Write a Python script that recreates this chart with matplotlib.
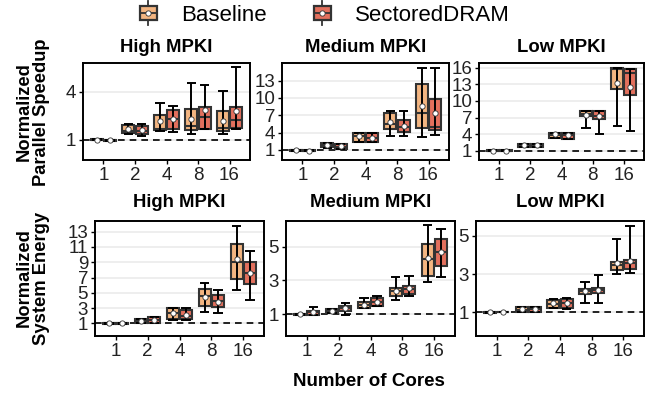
import numpy as np
import matplotlib
matplotlib.use("Agg")
import matplotlib.pyplot as plt
from matplotlib.patches import Rectangle, Patch
from matplotlib.lines import Line2D
from matplotlib.legend_handler import HandlerBase

plt.rcParams['font.family'] = ['Liberation Sans', 'DejaVu Sans']

cores = ['1', '2', '4', '8', '16']
configs = ['Baseline', 'SectoredDRAM']
colors = ['#F3B581', '#E3705D']
edge = '#333333'

# rows: whisker low, q1, median, q3, whisker high, mean  /  columns: cores 1..16
spd_high_base = [[0.98, 1.37, 1.52, 1.37, 1.37],
                 [0.97, 1.40, 1.60, 1.62, 1.52],
                 [1.00, 1.55, 1.70, 1.85, 1.73],
                 [1.03, 1.93, 2.52, 2.90, 2.82],
                 [1.03, 1.99, 3.26, 4.52, 4.06],
                 [1.00, 1.66, 2.14, 2.28, 2.14]]
spd_high_sect = [[0.95, 1.25, 1.46, 1.66, 1.70],
                 [0.95, 1.35, 1.70, 1.66, 1.73],
                 [0.98, 1.55, 2.30, 2.40, 2.24],
                 [1.00, 1.85, 2.84, 3.03, 3.07],
                 [1.00, 2.00, 3.13, 4.40, 5.52],
                 [0.98, 1.63, 2.28, 2.85, 2.76]]
spd_med_base = [[0.90, 1.40, 2.40, 3.42, 3.30],
                [0.90, 1.46, 2.44, 4.58, 4.75],
                [1.00, 1.85, 3.50, 5.50, 7.35],
                [1.05, 2.15, 3.99, 7.46, 12.50],
                [1.05, 2.20, 4.00, 7.80, 15.24],
                [1.00, 1.86, 3.42, 5.90, 8.55]]
spd_med_sect = [[0.75, 1.10, 2.30, 3.42, 3.60],
                [0.75, 1.17, 2.33, 4.17, 4.46],
                [0.85, 1.60, 3.10, 4.98, 4.93],
                [0.95, 2.04, 3.88, 6.19, 9.77],
                [0.95, 2.10, 3.90, 7.80, 15.24],
                [0.83, 1.69, 3.13, 5.15, 7.35]]
spd_low_base = [[0.95, 1.60, 3.24, 5.05, 5.47],
                [0.95, 1.60, 3.24, 7.27, 12.10],
                [1.00, 2.00, 3.90, 7.60, 15.80],
                [1.05, 2.27, 4.26, 8.23, 16.00],
                [1.05, 2.27, 4.26, 8.23, 16.00],
                [1.00, 1.97, 3.96, 7.51, 13.18]]
spd_low_sect = [[0.95, 1.60, 3.06, 4.02, 4.56],
                [0.95, 1.60, 3.06, 6.67, 11.07],
                [1.00, 2.00, 3.80, 7.30, 15.00],
                [1.05, 2.27, 4.14, 8.18, 15.70],
                [1.05, 2.27, 4.14, 8.18, 15.70],
                [1.00, 1.97, 3.84, 7.27, 12.46]]

eng_high_base = [[0.97, 1.08, 1.50, 2.44, 5.36],
                 [0.97, 1.08, 1.56, 3.26, 6.76],
                 [1.00, 1.30, 2.30, 4.60, 9.00],
                 [1.03, 1.55, 2.96, 5.45, 11.34],
                 [1.03, 1.55, 3.00, 6.32, 13.78],
                 [1.00, 1.30, 2.31, 4.40, 9.38]]
eng_high_sect = [[0.97, 1.08, 1.50, 2.39, 4.05],
                 [0.97, 1.08, 1.56, 3.09, 6.14],
                 [1.00, 1.40, 2.00, 3.90, 7.60],
                 [1.03, 1.78, 2.74, 4.70, 9.06],
                 [1.03, 1.78, 2.96, 5.36, 10.46],
                 [1.00, 1.39, 2.09, 3.83, 7.62]]
eng_med_base = [[0.97, 1.06, 1.36, 1.85, 2.89],
                [0.97, 1.06, 1.36, 2.05, 3.29],
                [1.00, 1.20, 1.55, 2.35, 4.28],
                [1.03, 1.29, 1.73, 2.55, 5.18],
                [1.03, 1.29, 1.96, 3.21, 6.29],
                [1.00, 1.20, 1.56, 2.39, 4.34]]
eng_med_sect = [[0.97, 0.96, 1.46, 2.05, 3.21],
                [0.97, 1.16, 1.46, 2.21, 3.84],
                [1.10, 1.35, 1.72, 2.50, 4.70],
                [1.20, 1.46, 1.96, 2.69, 5.48],
                [1.45, 1.66, 2.06, 3.29, 6.03],
                [1.12, 1.36, 1.73, 2.55, 4.68]]
eng_low_base = [[0.98, 1.04, 1.21, 1.47, 3.00],
                [0.98, 1.04, 1.21, 1.99, 3.24],
                [1.00, 1.15, 1.45, 2.10, 3.50],
                [1.02, 1.27, 1.64, 2.25, 3.64],
                [1.02, 1.27, 1.70, 2.60, 4.86],
                [1.00, 1.16, 1.47, 2.13, 3.56]]
eng_low_sect = [[1.00, 1.04, 1.17, 1.47, 3.07],
                [1.00, 1.04, 1.25, 2.03, 3.29],
                [1.02, 1.18, 1.50, 2.20, 3.60],
                [1.05, 1.27, 1.70, 2.30, 3.76],
                [1.05, 1.27, 1.78, 2.95, 5.50],
                [1.02, 1.19, 1.50, 2.20, 3.68]]

titles = ['High MPKI', 'Medium MPKI', 'Low MPKI']
spd_ylims = [(-0.26, 5.78), (-0.73, 16.05), (-0.68, 16.85)]
spd_ticks = [[1, 4], [1, 4, 7, 10, 13], [1, 4, 7, 10, 13, 16]]
eng_ylims = [(-0.66, 14.4), (-0.30, 6.53), (-0.23, 5.78)]
eng_ticks = [[1, 3, 5, 7, 9, 11, 13], [1, 3, 5], [1, 3, 5]]

W, H = 654, 393
fig = plt.figure(figsize=(W / 100, H / 100), dpi=100)


def px_axes(x0, y0, x1, y1):
    return fig.add_axes([x0 / W, 1 - y1 / H, (x1 - x0) / W, (y1 - y0) / H])


def draw_panel(ax, series, ylim, ticks, title, title_y):
    x = np.arange(len(cores))
    ax.set_xlim(-0.65, len(cores) - 0.35)
    ax.set_ylim(*ylim)
    ax.set_yticks(ticks)
    ax.set_xticks(x)
    ax.set_xticklabels(cores)
    ax.yaxis.grid(True, color='#EBEBEB', lw=1.2, zorder=0)
    ax.set_axisbelow(True)
    ax.axhline(1, color='black', lw=1.2, ls=(0, (4, 3)), zorder=1.5)
    for k, (st, c) in enumerate(zip(series, colors)):
        lo, q1, med, q3, hi, mean = [np.array(r) for r in st]
        xs = x + (k - 0.5) * 0.42
        ax.bar(xs, q3 - q1, bottom=q1, width=0.38, color=c, edgecolor=edge,
               linewidth=1.5, zorder=2)
        ax.hlines(med, xs - 0.19, xs + 0.19, color=edge, lw=1.5, zorder=2.5)
        ax.vlines(xs, lo, hi, color='black', lw=1.4, zorder=3)
        ax.hlines(lo, xs - 0.15, xs + 0.15, color='black', lw=1.4, zorder=3)
        ax.hlines(hi, xs - 0.15, xs + 0.15, color='black', lw=1.4, zorder=3)
        ax.plot(xs, mean, 'o', ms=3.8, mfc='white', mec=edge, mew=0.6,
                ls='none', zorder=4)
    for s in ax.spines.values():
        s.set_linewidth(1.4)
        s.set_color('black')
    ax.tick_params(labelsize=13.5, length=3, width=1, colors='black',
                   labelcolor='#222222', pad=2)
    bb = ax.get_position()
    fig.text((bb.x0 + bb.x1) / 2, 1 - title_y / H, title, ha='center',
             va='center', fontsize=13.3, fontweight='bold')


top_pos = [(83, 63, 250, 160), (282, 63, 449, 160), (479, 63, 644, 160)]
bot_pos = [(95, 221, 264, 336), (286, 221, 455, 336), (476, 221, 644, 336)]
spd = [(spd_high_base, spd_high_sect), (spd_med_base, spd_med_sect),
       (spd_low_base, spd_low_sect)]
eng = [(eng_high_base, eng_high_sect), (eng_med_base, eng_med_sect),
       (eng_low_base, eng_low_sect)]

for i in range(3):
    draw_panel(px_axes(*top_pos[i]), spd[i], spd_ylims[i], spd_ticks[i],
               titles[i], 47)
    draw_panel(px_axes(*bot_pos[i]), eng[i], eng_ylims[i], eng_ticks[i],
               titles[i], 202)

fig.text(33 / W, 1 - 112 / H, 'Normalized\nParallel Speedup', rotation=90,
         ha='center', va='center', fontsize=13.2, fontweight='bold',
         linespacing=1.05)
fig.text(33 / W, 1 - 278 / H, 'Normalized\nSystem Energy', rotation=90,
         ha='center', va='center', fontsize=13.2, fontweight='bold',
         linespacing=1.05)
fig.text(369 / W, 1 - 382 / H, 'Number of Cores', ha='center', va='center',
         fontsize=13.5, fontweight='bold')


class BoxHandler(HandlerBase):
    def create_artists(self, legend, orig_handle, xdescent, ydescent,
                       width, height, fontsize, trans):
        x0, y0 = -xdescent, -ydescent
        cx, cy = x0 + width / 2, y0 + height / 2
        stem = Line2D([cx, cx], [y0 - 0.2 * height, y0 + 1.2 * height],
                      color=edge, lw=1.3, transform=trans)
        box = Rectangle((x0, y0 + 0.1 * height), width, 0.8 * height,
                        facecolor=orig_handle.get_facecolor(), edgecolor=edge,
                        lw=1.6, transform=trans)
        med = Line2D([x0, x0 + width], [cy, cy], color=edge, lw=1.3,
                     transform=trans)
        dot = Line2D([cx], [cy], marker='o', ms=3.8, mfc='white', mec=edge,
                     mew=0.6, transform=trans)
        return [stem, box, med, dot]


handles = [Patch(facecolor=c, label=l) for c, l in zip(colors, configs)]
fig.legend(handles=handles, labels=configs, loc='center',
           bbox_to_anchor=(0.497, 1 - 15 / H), ncol=2, frameon=False,
           fontsize=16, handlelength=0.77, handleheight=0.85,
           handletextpad=1.1, columnspacing=2.1,
           handler_map={Patch: BoxHandler()})

fig.savefig('out.png', dpi=100)
